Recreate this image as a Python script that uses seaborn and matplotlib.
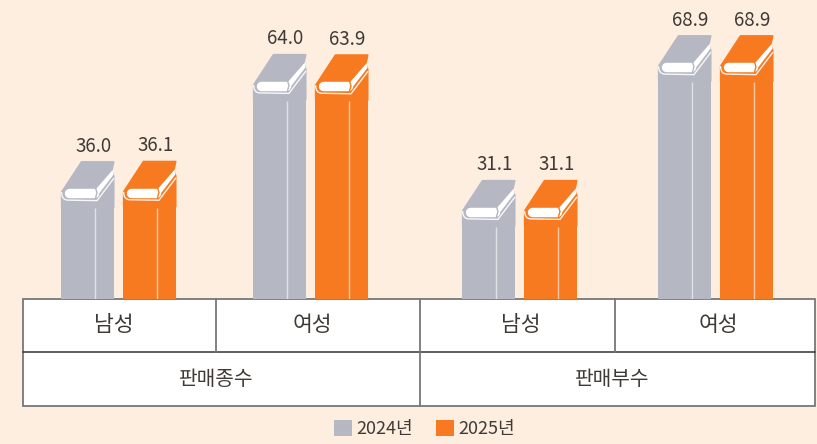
import numpy as np
import pandas as pd
import seaborn as sns
import matplotlib
matplotlib.use("Agg")
import matplotlib.pyplot as plt
from matplotlib.patches import Polygon, Rectangle, PathPatch
from matplotlib.path import Path

# ---- data ----
years = ["2024년", "2025년"]
groups = ["남성", "여성", "남성", "여성"]
metrics = ["판매종수", "판매부수"]
values_2024 = [36.0, 64.0, 31.1, 68.9]
values_2025 = [36.1, 63.9, 31.1, 68.9]
group_centers_px = [118.5, 310.5, 519.5, 715.5]

# ---- style ----
BG = "#feeee0"
GRAY = "#b5b7c3"
ORANGE = "#f77a21"
LINE = "#777777"
TEXT = "#3f3a36"
W, H = 817, 444
BASE_PX = 299
PX_PER_UNIT = 3.83
BOOK_PX = 38

sns.set_theme(style="white")
plt.rcParams["font.family"] = ["Noto Sans CJK KR", "DejaVu Sans"]
plt.rcParams["axes.unicode_minus"] = False

fig = plt.figure(figsize=(W / 100, H / 100), dpi=100, facecolor=BG)

# table axes in pixel coordinates
axt = fig.add_axes([0, 0, 1, 1], zorder=1)
axt.set_xlim(0, W); axt.set_ylim(H, 0); axt.axis("off")

ax = fig.add_axes([0, (H - BASE_PX) / H, 1, BASE_PX / H], zorder=2)
ax.patch.set_alpha(0)

df = pd.DataFrame({
    "pos": group_centers_px * 2,
    "value": values_2024 + values_2025,
    "year": [years[0]] * 4 + [years[1]] * 4,
})
sns.barplot(data=df, x="pos", y="value", hue="year", hue_order=years,
            palette=[GRAY, ORANGE], native_scale=True,
            width=124 / 192, gap=0.145, legend=True, ax=ax,
            linewidth=0, saturation=1, errorbar=None)
ax.set_xlim(0, W)
ax.set_ylim(0, BASE_PX / PX_PER_UNIT)
ax.axis("off")


def book(ax, x0, val, color):
    ptop = val * PX_PER_UNIT

    # u right, v down in px from the book's top-left corner
    def P(pts):
        return [(x0 + u, (ptop - v) / PX_PER_UNIT) for u, v in pts]

    z = 5
    # silhouette of the cover plus the side panel behind it
    ax.add_patch(Polygon(P([(0.7, 46), (0.7, 31), (20.5, 0.8), (52.7, 0.8), (51.5, 6.5), (50.5, 10),
                            (52.7, 15), (52.7, 46)]),
                         closed=True, fc=color, ec=color, lw=1.2, joinstyle="round", zorder=z))
    # light outline under the book
    codes = [Path.MOVETO, Path.CURVE3, Path.CURVE3, Path.LINETO, Path.LINETO]
    verts = P([(0.6, 31), (0.6, 39), (7, 39), (36, 39.5), (53, 17)])
    ax.add_patch(PathPatch(Path(verts, codes), fc="none", ec="white", lw=1.0, alpha=0.9, zorder=z + 1))
    # rounded white page block
    ax.plot(*zip(*P([(8, 32), (33, 32)])), color="white", lw=6.8, solid_capstyle="round", zorder=z + 2)
    # white fore-edge running up to the right
    ax.add_patch(Polygon(P([(35, 28), (51.5, 9), (52.5, 13.5), (36.5, 34.5)]),
                         closed=True, fc="white", ec="none", zorder=z + 2))
    # fold line between pages and fore-edge
    ax.plot(*zip(*P([(34.5, 27), (36, 31.5), (34.5, 37)])), color=color, lw=1.0, zorder=z + 3)
    # line on the front of the body
    ax.plot(*zip(*P([(34, 47), (34, ptop)])), color="white", lw=1.0, alpha=0.6, zorder=z + 1,
            solid_capstyle="butt")


bar_patches = [p for p in ax.patches if p.get_height() > 0]
colors = [GRAY] * 4 + [ORANGE] * 4
vals = values_2024 + values_2025
for p, c, v in zip(bar_patches, colors, vals):
    x0, w = p.get_x(), p.get_width()
    p.set_height(v - BOOK_PX / PX_PER_UNIT)
    book(ax, x0, v, c)
    ax.annotate(f"{v:.1f}", (x0 + w / 2 + 6, v), xytext=(0, 3.3), textcoords="offset points",
                ha="center", va="bottom", fontsize=13.5, color=TEXT, zorder=10)

# ---- table ----
L, R, Y0, Y1, Y2 = 23.5, 815.5, 298.8, 352.3, 406
axt.add_patch(Rectangle((L, Y0), R - L, Y2 - Y0, fc="white", ec=LINE, lw=1.3, zorder=1))
axt.plot([L, R], [Y1, Y1], color="#333333", lw=1.1, zorder=2)
for xv in (216.5, 615):
    axt.plot([xv, xv], [Y0, Y1], color=LINE, lw=1.3, zorder=2)
axt.plot([420.5, 420.5], [Y0, Y2], color=LINE, lw=1.3, zorder=2)
for xc, g in zip([114, 312, 521, 718], groups):
    axt.text(xc, 325, g, ha="center", va="center", fontsize=15.5, color=TEXT)
for xc, m in zip([216, 612], metrics):
    axt.text(xc, 379, m, ha="center", va="center", fontsize=14.6, color=TEXT)

# ---- legend ----
h, l = ax.get_legend_handles_labels()
ax.get_legend().remove()
fig.legend(h, l, loc="center", bbox_to_anchor=(424.5 / W, (H - 429) / H), ncol=2, frameon=False,
           fontsize=13.0, handlelength=1.0, handleheight=1.0, handletextpad=0.25,
           columnspacing=1.25, labelcolor=TEXT, borderpad=0)

fig.savefig("out.png", dpi=100, facecolor=BG)
